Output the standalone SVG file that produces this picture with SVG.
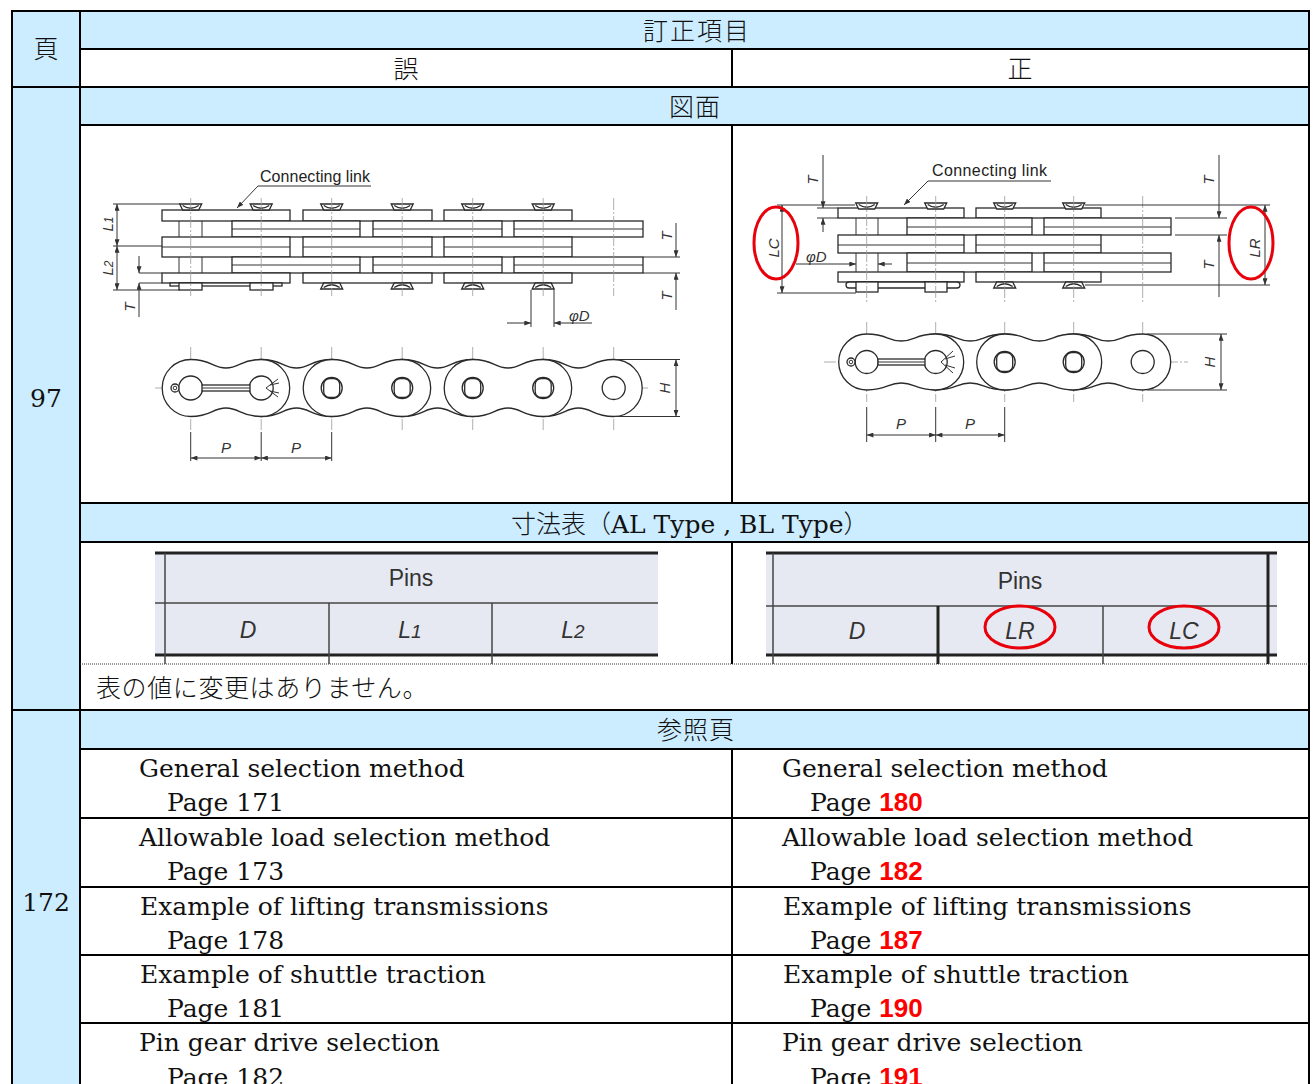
<svg xmlns="http://www.w3.org/2000/svg" width="1313" height="1084" viewBox="0 0 1313 1084">
<style>
.bg{fill:#CCECFF}
.grid{stroke:#000;stroke-width:2;fill:none}
.dot{stroke:#333;stroke-width:1;stroke-dasharray:1 1;fill:none}
.jp{font-family:"Noto Sans CJK JP","Noto Sans CJK SC",sans-serif;font-size:25px;font-weight:300;fill:#111}
.sr{font-family:"DejaVu Serif","Liberation Serif",serif;font-size:25px;fill:#111}
.red{font-family:"Liberation Sans",Arial,sans-serif;font-weight:bold;font-size:26px;fill:#FF0000}
.pl{stroke:#2a2a2a;stroke-width:1.3;fill:#fff}
.th{stroke:#333;stroke-width:1;fill:none}
.cl{stroke:#9a9a9a;stroke-width:0.8;stroke-dasharray:12 2 2 2;fill:none}
.dl{font-family:"Liberation Sans",Arial,sans-serif;font-style:italic;font-size:15px;fill:#333}
.cn{font-family:"Liberation Sans",Arial,sans-serif;font-size:16px;fill:#222}
.ring{fill:none;stroke:#E8000B;stroke-width:3}
.tb{fill:#E6E9F2}
.tk{stroke:#222;stroke-width:3;fill:none}
.tn{stroke:#444;stroke-width:1.5;fill:none}
.tt{font-family:"Liberation Sans",Arial,sans-serif;font-size:23px;fill:#333}
.ti{font-family:"Liberation Sans",Arial,sans-serif;font-style:italic;font-size:23px;fill:#333}
</style>
<defs>
<marker id="ar" viewBox="0 0 8 6" refX="8" refY="3" markerWidth="7" markerHeight="5" orient="auto-start-reverse" markerUnits="userSpaceOnUse"><path d="M0,0 L8,3 L0,6 Z" fill="#333"/></marker>
<path id="dbL" d="M0,-28.5 C21.15,-28.5 21.15,-20 35.25,-20 C49.35,-20 49.35,-28.5 70.5,-28.5 A28.5,28.5 0 0 1 70.5,28.5 C49.35,28.5 49.35,20 35.25,20 C21.15,20 21.15,28.5 0,28.5 A28.5,28.5 0 0 1 0,-28.5Z"/>
<path id="dbR" d="M0,-28 C20.7,-28 20.7,-21 34.5,-21 C48.3,-21 48.3,-28 69,-28 A28,28 0 0 1 69,28 C48.3,28 48.3,21 34.5,21 C20.7,21 20.7,28 0,28 A28,28 0 0 1 0,-28Z"/>
<g id="hdT"><path d="M-11,0 H11 L8,6 H-8 Z"/><path d="M-8,1.5 Q0,7 8,1.5" fill="none"/></g>
<g id="hdB"><path d="M-8,0 H8 L11,6 H-11 Z"/><path d="M-8,4.5 Q0,-1 8,4.5" fill="none"/></g>
<g id="rsq"><circle r="10.5"/><rect x="-8" y="-9.5" width="16" height="19" rx="6"/></g>
</defs>

<!-- table backgrounds -->
<g id="backgrounds">
<rect x="12" y="11" width="68" height="1073" class="bg"/>
<rect x="80" y="11" width="1229" height="38" class="bg"/>
<rect x="80" y="87" width="1229" height="38" class="bg"/>
<rect x="80" y="503" width="1229" height="39" class="bg"/>
<rect x="80" y="710" width="1229" height="39" class="bg"/>
</g>

<!-- grid lines -->
<g id="grid" class="grid">
<line x1="12" y1="11" x2="1309" y2="11"/>
<line x1="12" y1="10" x2="12" y2="1084"/>
<line x1="1309" y1="10" x2="1309" y2="1084"/>
<line x1="80" y1="11" x2="80" y2="1084"/>
<line x1="80" y1="49" x2="1309" y2="49"/>
<line x1="12" y1="87" x2="1309" y2="87"/>
<line x1="80" y1="125" x2="1309" y2="125"/>
<line x1="80" y1="503" x2="1309" y2="503"/>
<line x1="80" y1="542" x2="1309" y2="542"/>
<line x1="12" y1="710" x2="1309" y2="710"/>
<line x1="80" y1="749" x2="1309" y2="749"/>
<line x1="80" y1="818" x2="1309" y2="818"/>
<line x1="80" y1="887" x2="1309" y2="887"/>
<line x1="80" y1="955" x2="1309" y2="955"/>
<line x1="80" y1="1023" x2="1309" y2="1023"/>
<line x1="732" y1="49" x2="732" y2="87"/>
<line x1="732" y1="125" x2="732" y2="503"/>
<line x1="732" y1="542" x2="732" y2="664"/>
<line x1="732" y1="749" x2="732" y2="1084"/>
<line x1="80" y1="664" x2="1309" y2="664" class="dot"/>
</g>

<!-- header texts -->
<g id="headers">
<text x="46" y="58" class="jp" text-anchor="middle">頁</text>
<text x="697" y="40" class="jp" text-anchor="middle" letter-spacing="2">訂正項目</text>
<text x="406" y="78" class="jp" text-anchor="middle">誤</text>
<text x="1020" y="78" class="jp" text-anchor="middle">正</text>
<text x="695" y="116" class="jp" text-anchor="middle" letter-spacing="1">図面</text>
<text x="511" y="533"><tspan class="jp">寸法表（</tspan><tspan class="sr">AL Type , BL Type</tspan><tspan class="jp">）</tspan></text>
<text x="96" y="697" class="jp" letter-spacing="0.6">表の値に変更はありません。</text>
<text x="696" y="739" class="jp" text-anchor="middle" letter-spacing="1">参照頁</text>
<text x="46" y="407" class="sr" text-anchor="middle">97</text>
<text x="46" y="911" class="sr" text-anchor="middle">172</text>
</g>

<!-- wrong drawing (left) -->
<g id="drawing-wrong">
<text x="260" y="182" class="cn" textLength="110">Connecting link</text>
<line x1="258" y1="186" x2="371" y2="186" class="th"/>
<line x1="258" y1="186" x2="237" y2="208" class="th" marker-end="url(#ar)"/>
<g class="pl">
<rect x="162" y="210" width="128" height="11"/><rect x="303" y="210" width="129" height="11"/><rect x="444" y="210" width="128" height="11"/>
<rect x="232" y="221" width="128" height="16"/><rect x="373" y="221" width="129" height="16"/><rect x="514" y="221" width="129" height="16"/>
<rect x="162" y="237" width="128" height="20"/><rect x="303" y="237" width="129" height="20"/><rect x="444" y="237" width="128" height="20"/>
<rect x="232" y="257" width="128" height="16"/><rect x="373" y="257" width="129" height="16"/><rect x="514" y="257" width="129" height="16"/>
<rect x="162" y="273" width="128" height="10"/><rect x="303" y="273" width="129" height="10"/><rect x="444" y="273" width="128" height="10"/>
<rect x="170" y="283" width="112" height="3"/>
<rect x="179" y="283" width="23" height="7"/><rect x="250" y="283" width="23" height="7"/>
<use href="#hdT" x="190.7" y="204"/><use href="#hdT" x="261.2" y="204"/><use href="#hdT" x="331.7" y="204"/><use href="#hdT" x="402.2" y="204"/><use href="#hdT" x="472.7" y="204"/><use href="#hdT" x="543.2" y="204"/>
<use href="#hdB" x="331.7" y="283"/><use href="#hdB" x="402.2" y="283"/><use href="#hdB" x="472.7" y="283"/><use href="#hdB" x="543.2" y="283"/>
</g>
<g class="th">
<path d="M232,229 H360 M373,229 H502 M514,229 H643 M232,265 H360 M373,265 H502 M514,265 H643 M162,247 H290 M303,247 H432 M444,247 H572"/>
<path d="M179,221 V237 M202,221 V237 M179,257 V273 M202,257 V273"/>
</g>
<g class="cl">
<path d="M190.7,198 V296 M261.2,198 V296 M331.7,198 V296 M402.2,198 V296 M472.7,198 V296 M543.2,198 V296 M613.7,198 V296"/>
</g>
<g class="th">
<path d="M113,204 H180 M113,246 H162 M113,290 H180"/>
<line x1="117" y1="204" x2="117" y2="246" marker-start="url(#ar)" marker-end="url(#ar)"/>
<line x1="117" y1="246" x2="117" y2="290" marker-start="url(#ar)" marker-end="url(#ar)"/>
<path d="M139,273 H162 M139,283 H162"/>
<line x1="139" y1="256" x2="139" y2="273" marker-end="url(#ar)"/>
<line x1="139" y1="317" x2="139" y2="283" marker-end="url(#ar)"/>
<path d="M643,257 H680 M643,273 H680"/>
<line x1="676" y1="223" x2="676" y2="257" marker-end="url(#ar)"/>
<line x1="676" y1="310" x2="676" y2="273" marker-end="url(#ar)"/>
<path d="M531,290 V327 M554,290 V327"/>
<line x1="507" y1="323" x2="531" y2="323" marker-end="url(#ar)"/>
<line x1="592" y1="323" x2="554" y2="323" marker-end="url(#ar)"/>
</g>
<text class="dl" transform="translate(113,224) rotate(-90)" text-anchor="middle">L<tspan font-size="12">1</tspan></text>
<text class="dl" transform="translate(113,268) rotate(-90)" text-anchor="middle">L<tspan font-size="12">2</tspan></text>
<text class="dl" transform="translate(135,307) rotate(-90)" text-anchor="middle">T</text>
<text class="dl" transform="translate(672,236) rotate(-90)" text-anchor="middle">T</text>
<text class="dl" transform="translate(672,296) rotate(-90)" text-anchor="middle">T</text>
<text class="dl" x="569" y="321">φD</text>
<!-- front view -->
<g class="cl">
<path d="M155,388 H648"/>
<path d="M190.7,347 V430 M261.2,347 V430 M331.7,347 V430 M402.2,347 V430 M472.7,347 V430 M543.2,347 V430 M613.7,347 V430"/>
</g>
<g class="pl">
<use href="#dbL" x="261.2" y="388"/><use href="#dbL" x="402.2" y="388"/><use href="#dbL" x="543.2" y="388"/>
<use href="#dbL" x="190.7" y="388"/><use href="#dbL" x="331.7" y="388"/><use href="#dbL" x="472.7" y="388"/>
<circle cx="190.7" cy="388" r="12"/><circle cx="261.2" cy="388" r="12"/>
<use href="#rsq" x="331.7" y="388"/><use href="#rsq" x="402.2" y="388"/><use href="#rsq" x="472.7" y="388"/><use href="#rsq" x="543.2" y="388"/>
<circle cx="613.7" cy="388" r="11.5"/>
<rect x="202" y="385" width="48" height="6"/>
<circle cx="175" cy="388" r="4"/>
</g>
<g class="th">
<path d="M202,388 H250"/><circle cx="175" cy="388" r="1.8"/>
<path d="M266,388 L278,379 M266,388 L278,397 M270,385 L279,383 M270,391 L279,393"/>
<path d="M615,359.5 H680 M615,416.5 H680"/>
<line x1="676" y1="359.5" x2="676" y2="416.5" marker-start="url(#ar)" marker-end="url(#ar)"/>
<path d="M190.7,432 V461 M261.2,432 V461 M331.7,432 V461"/>
<line x1="190.7" y1="458" x2="261.2" y2="458" marker-start="url(#ar)" marker-end="url(#ar)"/>
<line x1="261.2" y1="458" x2="331.7" y2="458" marker-start="url(#ar)" marker-end="url(#ar)"/>
</g>
<text class="dl" transform="translate(670,388) rotate(-90)" text-anchor="middle">H</text>
<text class="dl" x="226" y="453" text-anchor="middle">P</text>
<text class="dl" x="296" y="453" text-anchor="middle">P</text>
</g>

<!-- correct drawing (right) -->
<g id="drawing-correct">
<text x="932" y="176" class="cn" textLength="115">Connecting link</text>
<line x1="928" y1="181" x2="1051" y2="181" class="th"/>
<line x1="928" y1="181" x2="904" y2="205" class="th" marker-end="url(#ar)"/>
<g class="pl">
<rect x="838" y="208" width="126" height="10"/><rect x="976" y="208" width="125" height="10"/>
<rect x="907" y="218" width="125" height="17"/><rect x="1044" y="218" width="127" height="17"/>
<rect x="838" y="235" width="126" height="18"/><rect x="976" y="235" width="125" height="18"/>
<rect x="907" y="253" width="125" height="19"/><rect x="1044" y="253" width="127" height="19"/>
<rect x="838" y="272" width="126" height="10"/><rect x="976" y="272" width="125" height="10"/>
<rect x="846" y="282" width="114" height="6" rx="3"/>
<rect x="856" y="282" width="22" height="10"/><rect x="925" y="282" width="22" height="10"/>
<use href="#hdT" x="866.7" y="203"/><use href="#hdT" x="935.7" y="203"/><use href="#hdT" x="1004.7" y="203"/><use href="#hdT" x="1073.7" y="203"/>
<use href="#hdB" x="1004.7" y="282"/><use href="#hdB" x="1073.7" y="282"/>
</g>
<g class="th">
<path d="M907,227 H1032 M1044,227 H1171 M907,263 H1032 M1044,263 H1171 M838,245 H964 M976,245 H1101"/>
<path d="M856,218 V235 M878,218 V235 M856,253 V272 M878,253 V272"/>
</g>
<g class="cl">
<path d="M866.7,196 V302 M935.7,196 V302 M1004.7,196 V302 M1073.7,196 V302 M1142.7,196 V302"/>
</g>
<g class="th">
<path d="M777,205 H855 M777,293 H856"/>
<line x1="782" y1="205" x2="782" y2="293" marker-start="url(#ar)" marker-end="url(#ar)"/>
<path d="M817,208 H838 M817,218 H838"/>
<line x1="823" y1="155" x2="823" y2="208" marker-end="url(#ar)"/>
<line x1="823" y1="232" x2="823" y2="218" marker-end="url(#ar)"/>
<line x1="796" y1="264" x2="856" y2="264" marker-end="url(#ar)"/>
<line x1="892" y1="264" x2="878" y2="264" marker-end="url(#ar)"/>
<path d="M1085,205 H1270 M1085,285 H1270 M1175,218 H1227 M1175,235 H1227"/>
<line x1="1219" y1="155" x2="1219" y2="218" marker-end="url(#ar)"/>
<line x1="1219" y1="297" x2="1219" y2="235" marker-end="url(#ar)"/>
<line x1="1265" y1="205" x2="1265" y2="285" marker-start="url(#ar)" marker-end="url(#ar)"/>
</g>
<text class="dl" transform="translate(818,180) rotate(-90)" text-anchor="middle">T</text>
<text class="dl" transform="translate(1214,180) rotate(-90)" text-anchor="middle">T</text>
<text class="dl" transform="translate(1214,265) rotate(-90)" text-anchor="middle">T</text>
<text class="dl" transform="translate(779,248) rotate(-90)" text-anchor="middle">LC</text>
<text class="dl" transform="translate(1260,248) rotate(-90)" text-anchor="middle">LR</text>
<text class="dl" x="806" y="262">φD</text>
<ellipse cx="776" cy="243" rx="22" ry="36" class="ring"/>
<ellipse cx="1251" cy="243" rx="22" ry="36" class="ring"/>
<!-- front view -->
<g class="cl">
<path d="M824,362 H1188"/>
<path d="M866.7,322 V402 M935.7,322 V402 M1004.7,322 V402 M1073.7,322 V402 M1142.7,322 V402"/>
</g>
<g class="pl">
<use href="#dbR" x="935.7" y="362"/><use href="#dbR" x="1073.7" y="362"/>
<use href="#dbR" x="866.7" y="362"/><use href="#dbR" x="1004.7" y="362"/>
<circle cx="866.7" cy="362" r="11.5"/><circle cx="935.7" cy="362" r="11.5"/>
<use href="#rsq" x="1004.7" y="362"/><use href="#rsq" x="1073.7" y="362"/>
<circle cx="1142.7" cy="362" r="11.5"/>
<rect x="878" y="359" width="47" height="6"/>
<circle cx="851" cy="362" r="4"/>
</g>
<g class="th">
<path d="M878,362 H925"/><circle cx="851" cy="362" r="1.8"/>
<path d="M941,362 L953,351 M941,362 L953,373 M945,359 L955,356 M945,365 L955,368"/>
<path d="M1147,334 H1227 M1147,390 H1227"/>
<line x1="1221" y1="334" x2="1221" y2="390" marker-start="url(#ar)" marker-end="url(#ar)"/>
<path d="M866.7,407 V442 M935.7,407 V442 M1004.7,407 V442"/>
<line x1="866.7" y1="435" x2="935.7" y2="435" marker-start="url(#ar)" marker-end="url(#ar)"/>
<line x1="935.7" y1="435" x2="1004.7" y2="435" marker-start="url(#ar)" marker-end="url(#ar)"/>
</g>
<text class="dl" transform="translate(1215,362) rotate(-90)" text-anchor="middle">H</text>
<text class="dl" x="901" y="429" text-anchor="middle">P</text>
<text class="dl" x="970" y="429" text-anchor="middle">P</text>
</g>

<!-- dimension table images -->
<g id="table-wrong">
<rect x="155" y="553" width="503" height="102" class="tb"/>
<line x1="155" y1="553" x2="658" y2="553" class="tk"/>
<line x1="155" y1="655" x2="658" y2="655" class="tk"/>
<line x1="155" y1="603" x2="658" y2="603" class="tn"/>
<line x1="165" y1="553" x2="165" y2="664" class="tn"/>
<line x1="329" y1="603" x2="329" y2="664" class="tn"/>
<line x1="492" y1="603" x2="492" y2="664" class="tn"/>
<text x="411" y="586" class="tt" text-anchor="middle">Pins</text>
<text x="248" y="638" class="ti" text-anchor="middle">D</text>
<text x="410" y="638" class="ti" text-anchor="middle">L<tspan font-size="19">1</tspan></text>
<text x="573" y="638" class="ti" text-anchor="middle">L<tspan font-size="19">2</tspan></text>
</g>
<g id="table-correct">
<rect x="766" y="553" width="511" height="102" class="tb"/>
<line x1="766" y1="553" x2="1277" y2="553" class="tk"/>
<line x1="766" y1="655" x2="1277" y2="655" class="tk"/>
<line x1="766" y1="606" x2="1277" y2="606" class="tn"/>
<line x1="773" y1="553" x2="773" y2="664" class="tn"/>
<line x1="1268" y1="553" x2="1268" y2="664" class="tk"/>
<line x1="938" y1="606" x2="938" y2="664" class="tk"/>
<line x1="1103" y1="606" x2="1103" y2="664" class="tn"/>
<text x="1020" y="589" class="tt" text-anchor="middle">Pins</text>
<text x="857" y="639" class="ti" text-anchor="middle">D</text>
<text x="1020" y="639" class="ti" text-anchor="middle">LR</text>
<text x="1184" y="639" class="ti" text-anchor="middle">LC</text>
<ellipse cx="1020" cy="627" rx="35" ry="21" class="ring"/>
<ellipse cx="1184" cy="627" rx="35" ry="21" class="ring"/>
</g>

<!-- reference page rows -->
<g id="refs-wrong" class="sr">
<text x="139" y="777">General selection method</text>
<text x="167" y="811">Page 171</text>
<text x="139" y="846">Allowable load selection method</text>
<text x="167" y="880">Page 173</text>
<text x="140" y="915">Example of lifting transmissions</text>
<text x="167" y="949">Page 178</text>
<text x="140" y="983">Example of shuttle traction</text>
<text x="167" y="1017">Page 181</text>
<text x="139" y="1051">Pin gear drive selection</text>
<text x="167" y="1086">Page 182</text>
</g>
<g id="refs-correct" class="sr">
<text x="782" y="777">General selection method</text>
<text x="810" y="811">Page <tspan class="red">180</tspan></text>
<text x="782" y="846">Allowable load selection method</text>
<text x="810" y="880">Page <tspan class="red">182</tspan></text>
<text x="783" y="915">Example of lifting transmissions</text>
<text x="810" y="949">Page <tspan class="red">187</tspan></text>
<text x="783" y="983">Example of shuttle traction</text>
<text x="810" y="1017">Page <tspan class="red">190</tspan></text>
<text x="782" y="1051">Pin gear drive selection</text>
<text x="810" y="1086">Page <tspan class="red">191</tspan></text>
</g>
</svg>
